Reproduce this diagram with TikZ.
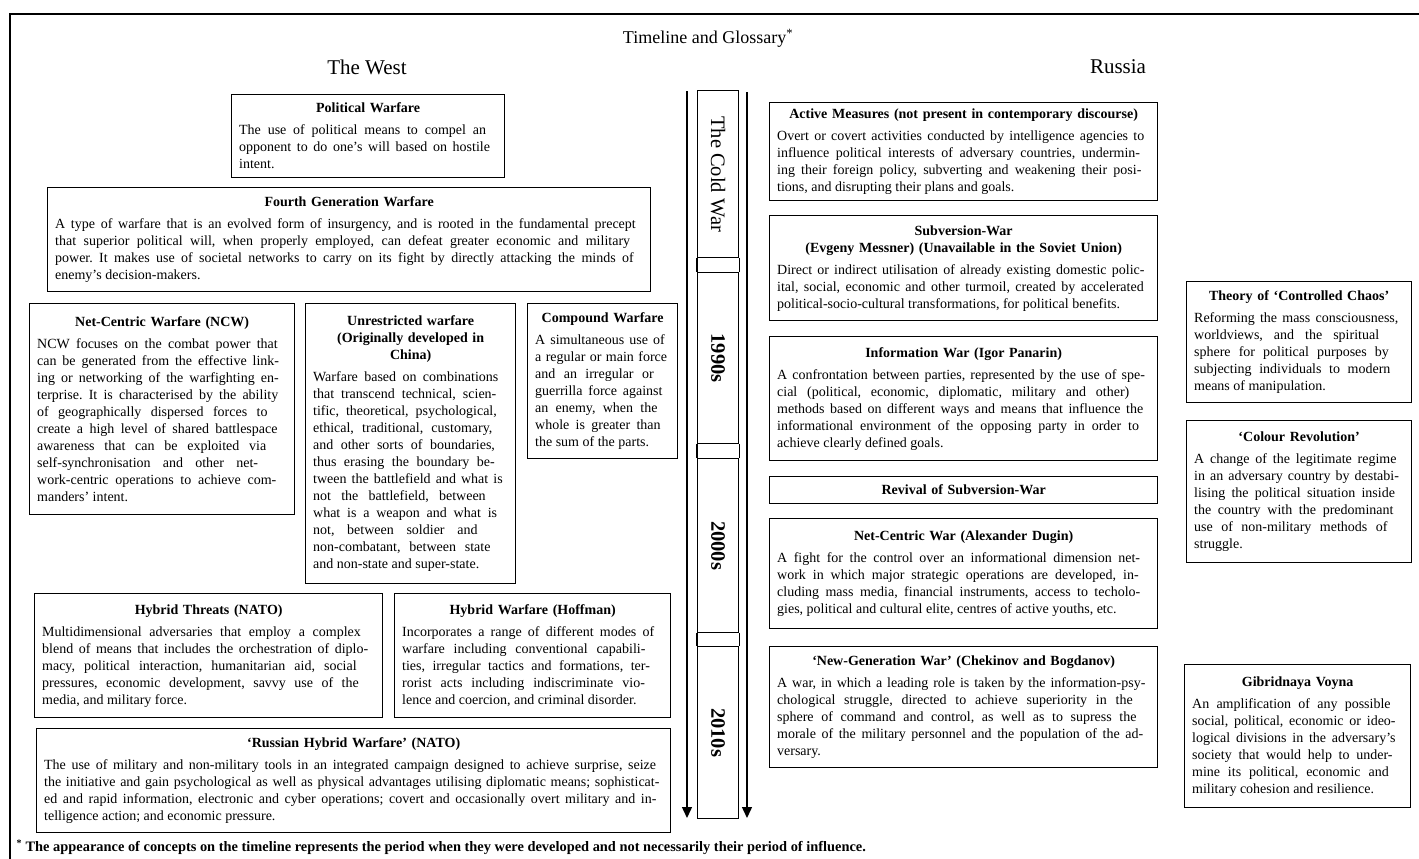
\documentclass[tikz,border=0pt]{standalone}
\usepackage{fontspec}
\setmainfont{Liberation Serif}
\usetikzlibrary{arrows.meta}
\newcommand{\LBk}{\linebreak}
\newcommand{\justtext}{\leftskip=0pt\rightskip=0pt\parfillskip=0pt plus 1fil\relax
  \spaceskip=0.25em plus 0.6em minus 0.06em\relax\xspaceskip=\spaceskip\frenchspacing}
\newcommand{\ttl}[1]{{\centering\bfseries #1\par}\vspace{5pt}\justtext}
\tolerance=10000
\hbadness=10000
\hfuzz=20pt
\hyphenpenalty=10000
\begin{document}
\begin{tikzpicture}[x=1pt,y=-1pt,
  gbox/.style={draw, line width=1.3pt, anchor=north west, inner xsep=7pt, inner ysep=4pt,
    font=\fontsize{14}{17}\selectfont},
  seg/.style={draw, line width=1.2pt, anchor=north west, inner sep=0pt, minimum width=41pt},
  segline/.style={line width=1.2pt},
  seglabel/.style={rotate=-90, font=\fontsize{20.5}{24}\selectfont},
  yearlabel/.style={rotate=-90, font=\fontsize{20.5}{24}\selectfont\bfseries},
  tlarrow/.style={line width=1.4pt, -{Triangle[width=10pt,length=11pt]}},
  frame/.style={line width=1.4pt},
  heading/.style={font=\fontsize{21}{25}\selectfont},
]
\useasboundingbox[fill=white] (0,0) rectangle (1419,859);
\draw[frame] (1419,14) -- (10,14) -- (10,859);

\node[heading, font=\fontsize{18}{22}\selectfont] (title) at (708,38) {Timeline and Glossary\textsuperscript{*}};
\node[heading] (west) at (367,67) {The West};
\node[heading] (russia) at (1118,67) {Russia};

% ---------------- The West ----------------
\node[gbox, minimum width=273pt, text width=258pt, minimum height=83pt] (pw) at (231,94)
 {\ttl{Political Warfare}The use of political means to compel an\LBk opponent to do one’s will based on hostile\LBk intent.};

\node[gbox, minimum width=603pt, text width=588pt, minimum height=104pt] (fg) at (47,187)
 {\ttl{Fourth Generation Warfare}A type of warfare that is an evolved form of insurgency, and is rooted in the fundamental precept\LBk that superior political will, when properly employed, can defeat greater economic and military\LBk power. It makes use of societal networks to carry on its fight by directly attacking the minds of\LBk enemy’s decision-makers.};

\node[gbox, minimum width=265pt, text width=250pt, minimum height=211pt] (ncw) at (29,303)
 {\ttl{Net-Centric Warfare (NCW)}NCW focuses on the combat power that\LBk can be generated from the effective link-\LBk ing or networking of the warfighting en-\LBk terprise. It is characterised by the ability\LBk of geographically dispersed forces to\LBk create a high level of shared battlespace\LBk awareness that can be exploited via\LBk self-synchronisation and other net-\LBk work-centric operations to achieve com-\LBk manders’ intent.};

\node[gbox, minimum width=210pt, text width=195pt, minimum height=280pt] (uw) at (305,303)
 {\ttl{Unrestricted warfare\\(Originally developed in\\China)}Warfare based on combinations\LBk that transcend technical, scien-\LBk tific, theoretical, psychological,\LBk ethical, traditional, customary,\LBk and other sorts of boundaries,\LBk thus erasing the boundary be-\LBk tween the battlefield and what is\LBk not the battlefield, between\LBk what is a weapon and what is\LBk not, between soldier and\LBk non-combatant, between state\LBk and non-state and super-state.};

\node[gbox, minimum width=150pt, text width=135pt, minimum height=155pt] (cw) at (527,303)
 {\ttl{Compound Warfare}A simultaneous use of\LBk a regular or main force\LBk and an irregular or\LBk guerrilla force against\LBk an enemy, when the\LBk whole is greater than\LBk the sum of the parts.};

\node[gbox, minimum width=348pt, text width=333pt, minimum height=124pt] (ht) at (34,593)
 {\ttl{Hybrid Threats (NATO)}Multidimensional adversaries that employ a complex\LBk blend of means that includes the orchestration of diplo-\LBk macy, political interaction, humanitarian aid, social\LBk pressures, economic development, savvy use of the\LBk media, and military force.};

\node[gbox, minimum width=276pt, text width=261pt, minimum height=124pt] (hw) at (394,593)
 {\ttl{Hybrid Warfare (Hoffman)}Incorporates a range of different modes of\LBk warfare including conventional capabili-\LBk ties, irregular tactics and formations, ter-\LBk rorist acts including indiscriminate vio-\LBk lence and coercion, and criminal disorder.};

\node[gbox, minimum width=634pt, text width=619pt, minimum height=104pt] (rh) at (36,728)
 {\ttl{‘Russian Hybrid Warfare’ (NATO)}The use of military and non-military tools in an integrated campaign designed to achieve surprise, seize\LBk the initiative and gain psychological as well as physical advantages utilising diplomatic means; sophisticat-\LBk ed and rapid information, electronic and cyber operations; covert and occasionally overt military and in-\LBk telligence action; and economic pressure.};

% ---------------- Timeline ----------------
\coordinate (la0) at (687,91);
\coordinate (la1) at (687,818);
\coordinate (ra0) at (747,92);
\coordinate (ra1) at (747,818);
\draw[tlarrow] (la0) -- (la1);
\draw[tlarrow] (ra0) -- (ra1);

\node[seg, minimum height=167pt] (s1) at (697,90) {};
\node[seg, minimum height=171pt] (s2) at (697,272) {};
\node[seg, minimum height=174pt] (s3) at (697,458) {};
\node[seg, minimum height=172pt] (s4) at (697,646) {};
\draw[segline] (s1.south west) -- (s2.north west) (s1.south east) -- (s2.north east);
\draw[segline] (s2.south west) -- (s3.north west) (s2.south east) -- (s3.north east);
\draw[segline] (s3.south west) -- (s4.north west) (s3.south east) -- (s4.north east);
\node[seglabel] (l1) at (s1.center) {The Cold War};
\node[yearlabel] (l2) at (s2.center) {1990s};
\node[yearlabel] (l3) at (s3.center) {2000s};
\node[yearlabel] (l4) at (s4.center) {2010s};

% ---------------- Russia ----------------
\node[gbox, minimum width=388pt, text width=373pt, minimum height=98pt] (am) at (769,102)
 {\ttl{Active Measures (not present in contemporary discourse)}Overt or covert activities conducted by intelligence agencies to\LBk influence political interests of adversary countries, undermin-\LBk ing their foreign policy, subverting and weakening their posi-\LBk tions, and disrupting their plans and goals.};

\node[gbox, minimum width=388pt, text width=373pt, minimum height=105pt] (sw) at (769,215)
 {\ttl{Subversion-War\\(Evgeny Messner) (Unavailable in the Soviet Union)}Direct or indirect utilisation of already existing domestic polic-\LBk ital, social, economic and other turmoil, created by accelerated\LBk political-socio-cultural transformations, for political benefits.};

\node[gbox, minimum width=388pt, text width=373pt, minimum height=124pt] (iw) at (769,336)
 {\ttl{Information War (Igor Panarin)}A confrontation between parties, represented by the use of spe-\LBk cial (political, economic, diplomatic, military and other)\LBk methods based on different ways and means that influence the\LBk informational environment of the opposing party in order to\LBk achieve clearly defined goals.};

\node[gbox, minimum width=388pt, text width=373pt, minimum height=27pt] (rv) at (769,476)
 {{\centering\bfseries Revival of Subversion-War\par}};

\node[gbox, minimum width=388pt, text width=373pt, minimum height=110pt] (nc) at (769,518)
 {\ttl{Net-Centric War (Alexander Dugin)}A fight for the control over an informational dimension net-\LBk work in which major strategic operations are developed, in-\LBk cluding mass media, financial instruments, access to techolo-\LBk gies, political and cultural elite, centres of active youths, etc.};

\node[gbox, minimum width=388pt, text width=373pt, minimum height=121pt] (ng) at (769,646)
 {\ttl{‘New-Generation War’ (Chekinov and Bogdanov)}A war, in which a leading role is taken by the information-psy-\LBk chological struggle, directed to achieve superiority in the\LBk sphere of command and control, as well as to supress the\LBk morale of the military personnel and the population of the ad-\LBk versary.};

\node[gbox, minimum width=225pt, text width=210pt, minimum height=121pt] (cc) at (1186,281)
 {\ttl{Theory of ‘Controlled Chaos’}Reforming the mass consciousness,\LBk worldviews, and the spiritual\LBk sphere for political purposes by\LBk subjecting individuals to modern\LBk means of manipulation.};

\node[gbox, minimum width=225pt, text width=210pt, minimum height=142pt] (cr) at (1186,420)
 {\ttl{‘Colour Revolution’}A change of the legitimate regime\LBk in an adversary country by destabi-\LBk lising the political situation inside\LBk the country with the predominant\LBk use of non-military methods of\LBk struggle.};

\node[gbox, minimum width=226pt, text width=211pt, minimum height=143pt] (gv) at (1184,664)
 {\ttl{Gibridnaya Voyna}An amplification of any possible\LBk social, political, economic or ideo-\LBk logical divisions in the adversary’s\LBk society that would help to under-\LBk mine its political, economic and\LBk military cohesion and resilience.};

\node[anchor=west, font=\fontsize{14.4}{17}\selectfont\bfseries] (fn) at (13,847)
 {\textsuperscript{*} The appearance of concepts on the timeline represents the period when they were developed and not necessarily their period of influence.};
\end{tikzpicture}
\end{document}
